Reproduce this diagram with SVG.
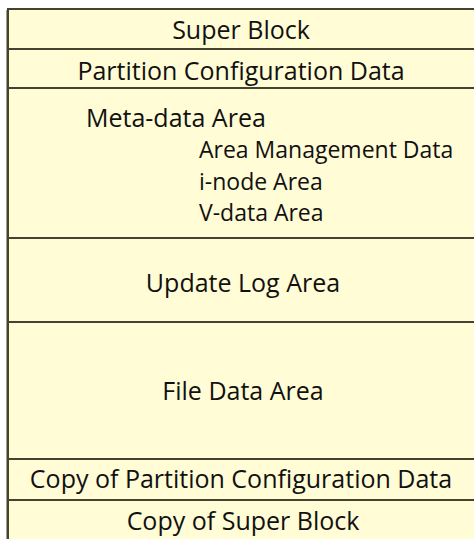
<svg xmlns="http://www.w3.org/2000/svg" width="474" height="539" viewBox="0 0 474 539">
<style>
.cell{fill:#fffcd6;stroke:none}
.sep{stroke:#45432f;stroke-width:2;fill:none}
.edge{stroke:#a09f90;stroke-width:1;fill:none}
.t{font-family:"Open Sans","Noto Sans","Liberation Sans",sans-serif;font-size:25px;font-weight:500;fill:#111}
.s{font-family:"Open Sans","Noto Sans","Liberation Sans",sans-serif;font-size:23px;font-weight:500;fill:#111}
.c{text-anchor:middle}
</style>
<rect width="474" height="539" fill="#ffffff"/>
<g id="super-block"><rect class="cell" x="8" y="9" width="470" height="40"/><text class="t c" x="241" y="39">Super Block</text></g>
<g id="partition-config"><rect class="cell" x="8" y="49" width="470" height="39"/><text class="t c" x="241" y="80">Partition Configuration Data</text></g>
<g id="meta-data-area"><rect class="cell" x="8" y="88" width="470" height="150"/>
<text class="t" x="86" y="127">Meta-data Area</text>
<text class="s" x="199" y="158">Area Management Data</text>
<text class="s" x="199" y="190">i-node Area</text>
<text class="s" x="199" y="221">V-data Area</text></g>
<g id="update-log-area"><rect class="cell" x="8" y="238" width="470" height="84"/><text class="t c" x="243" y="292">Update Log Area</text></g>
<g id="file-data-area"><rect class="cell" x="8" y="322" width="470" height="137"/><text class="t c" x="243" y="400">File Data Area</text></g>
<g id="copy-partition-config"><rect class="cell" x="8" y="459" width="470" height="41"/><text class="t c" x="241" y="488">Copy of Partition Configuration Data</text></g>
<g id="copy-super-block"><rect class="cell" x="8" y="500" width="470" height="45"/><text class="t c" x="243" y="530">Copy of Super Block</text></g>
<g id="lines">
<path class="edge" d="M6.5 10V545M7 8.5H478"/>
<path class="sep" d="M8 9V545M7 9H478M8 49H478M8 88H478M8 238H478M8 322H478M8 459H478M8 500H478"/>
</g>
</svg>
